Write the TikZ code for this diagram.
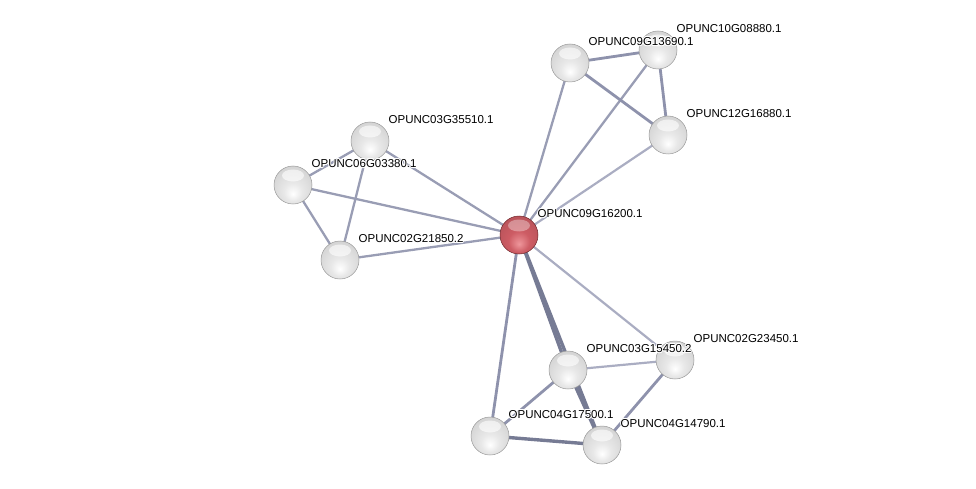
\documentclass[tikz,border=0pt]{standalone}
\usepackage{fontspec}
\setmainfont{Liberation Sans}
\definecolor{edgeA}{RGB}{118,123,148}
\definecolor{edgeB}{RGB}{142,146,172}
\definecolor{edgeC}{RGB}{170,173,194}
\definecolor{rrim}{RGB}{160,55,62}
\definecolor{rmid}{RGB}{205,92,100}
\definecolor{rlight}{RGB}{238,150,155}
\pgfdeclareradialshading{greysphere}{\pgfpoint{0bp}{-12bp}}{%
  color(0bp)=(white); color(12bp)=(gray!18); color(32bp)=(gray!36); color(45bp)=(gray!58); color(50bp)=(gray!80)}
\pgfdeclareradialshading{redsphere}{\pgfpoint{0bp}{-12bp}}{%
  color(0bp)=(rlight); color(14bp)=(rmid); color(34bp)=(rmid!88!black); color(45bp)=(rrim); color(50bp)=(rrim!75!black)}
\newcommand\haloed[1]{%
  \makebox[0pt][l]{\hspace{0.8pt}\textcolor{white}{#1}}%
  \makebox[0pt][l]{\hspace{-0.8pt}\textcolor{white}{#1}}%
  \makebox[0pt][l]{\raisebox{0.8pt}{\textcolor{white}{#1}}}%
  \makebox[0pt][l]{\raisebox{-0.8pt}{\textcolor{white}{#1}}}%
  \makebox[0pt][l]{\hspace{0.6pt}\raisebox{0.6pt}{\textcolor{white}{#1}}}%
  \makebox[0pt][l]{\hspace{-0.6pt}\raisebox{0.6pt}{\textcolor{white}{#1}}}%
  \makebox[0pt][l]{\hspace{0.6pt}\raisebox{-0.6pt}{\textcolor{white}{#1}}}%
  \makebox[0pt][l]{\hspace{-0.6pt}\raisebox{-0.6pt}{\textcolor{white}{#1}}}%
  #1}
\tikzset{
  prot/.style={circle,minimum size=38pt,inner sep=0pt,shading=greysphere,draw=gray!80,line width=0.5pt},
  hub/.style={circle,minimum size=38pt,inner sep=0pt,shading=redsphere,draw=rrim!70!black,line width=0.5pt},
  lbl/.style={anchor=base west,inner sep=0pt,font=\fontsize{11.5}{12}\selectfont,text=black},
  thick edge/.style={draw=edgeA,line width=3.4pt},
  mid edge/.style={draw=edgeB,line width=2.8pt},
  thin edge/.style={draw=edgeC,line width=2.2pt},
  light edge/.style={draw=edgeB!90,line width=2.3pt},
}
\begin{document}
\begin{tikzpicture}[x=1pt,y=-1pt]
\useasboundingbox (0,0) rectangle (976,489);
% node positions
\coordinate (pA) at (519,235);
\coordinate (p35510) at (370,141);
\coordinate (p03380) at (293,185);
\coordinate (p21850) at (340,260);
\coordinate (p13690) at (570,63);
\coordinate (p08880) at (658,50);
\coordinate (p16880) at (668,135);
\coordinate (p15450) at (568,370);
\coordinate (p23450) at (675,360);
\coordinate (p17500) at (490,436);
\coordinate (p14790) at (602,445);
% edges
\draw[light edge] (pA) -- (p35510);
\draw[light edge] (pA) -- (p03380);
\draw[light edge] (pA) -- (p21850);
\draw[light edge] (pA) -- (p13690);
\draw[light edge] (pA) -- (p08880);
\draw[thin edge] (pA) -- (p16880);
\draw[thin edge] (pA) -- (p23450);
\draw[mid edge] (pA) -- (p17500);
\draw[thick edge] (pA) -- (p15450);
\draw[thick edge] (pA) -- (p14790);
\draw[light edge] (p35510) -- (p03380);
\draw[light edge] (p35510) -- (p21850);
\draw[light edge] (p03380) -- (p21850);
\draw[mid edge] (p13690) -- (p08880);
\draw[mid edge] (p13690) -- (p16880);
\draw[mid edge] (p08880) -- (p16880);
\draw[thin edge] (p15450) -- (p23450);
\draw[mid edge] (p15450) -- (p17500);
\draw[thick edge] (p15450) -- (p14790);
\draw[thick edge] (p17500) -- (p14790);
\draw[mid edge] (p23450) -- (p14790);
% nodes
\foreach \n in {35510,03380,21850,13690,08880,16880,15450,23450,17500,14790}{
  \node[prot] (n\n) at (p\n) {};
  \fill[white,opacity=0.6] ([yshift=9.5pt]p\n) ellipse (11pt and 6pt);
}
\node[hub] (nA) at (pA) {};
\fill[white,opacity=0.35] ([yshift=9.5pt]pA) ellipse (11pt and 6pt);
% labels
\node[lbl] (lA) at ([shift={(18.5,-17.5)}]pA) {\haloed{OPUNC09G16200.1}};
\node[lbl] (l35510) at ([shift={(18.5,-17.5)}]p35510) {\haloed{OPUNC03G35510.1}};
\node[lbl] (l03380) at ([shift={(18.5,-17.5)}]p03380) {\haloed{OPUNC06G03380.1}};
\node[lbl] (l21850) at ([shift={(18.5,-17.5)}]p21850) {\haloed{OPUNC02G21850.2}};
\node[lbl] (l13690) at ([shift={(18.5,-17.5)}]p13690) {\haloed{OPUNC09G13690.1}};
\node[lbl] (l08880) at ([shift={(18.5,-17.5)}]p08880) {\haloed{OPUNC10G08880.1}};
\node[lbl] (l16880) at ([shift={(18.5,-17.5)}]p16880) {\haloed{OPUNC12G16880.1}};
\node[lbl] (l15450) at ([shift={(18.5,-17.5)}]p15450) {\haloed{OPUNC03G15450.2}};
\node[lbl] (l23450) at ([shift={(18.5,-17.5)}]p23450) {\haloed{OPUNC02G23450.1}};
\node[lbl] (l17500) at ([shift={(18.5,-17.5)}]p17500) {\haloed{OPUNC04G17500.1}};
\node[lbl] (l14790) at ([shift={(18.5,-17.5)}]p14790) {\haloed{OPUNC04G14790.1}};
\end{tikzpicture}
\end{document}
